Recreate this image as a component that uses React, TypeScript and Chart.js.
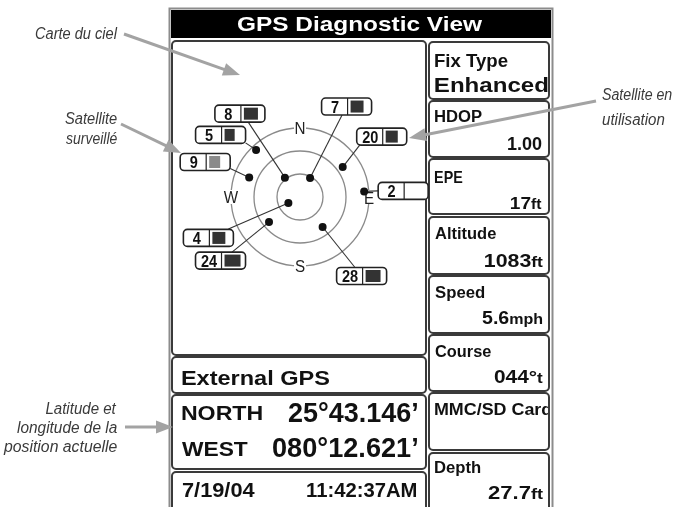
import React, { useEffect, useRef } from 'react';
import { Chart, registerables } from 'chart.js';
Chart.register(...registerables);

// ---------- data ----------
const satIds = ['8', '7', '5', '20', '9', '2', '4', '24', '28'];
const satAzimuth = [322, 28, 317, 55, 291, 85, 243, 231, 143];
const satElevation = [58, 62, 6, 22, 19, 6, 73, 38, 41];
const satSignal = [0.78, 0.72, 0.56, 0.67, 0.61, 0, 0.72, 0.89, 0.83];
const satStatus = ['used', 'used', 'used', 'used', 'tracked', 'none', 'used', 'used', 'used'];
const ringElevations = [0, 30, 60];
const compassLabels = ['N', 'E', 'S', 'W'];

const titleText = 'GPS Diagnostic View';
const infoLabels = ['Fix Type', 'HDOP', 'EPE', 'Altitude', 'Speed', 'Course', 'MMC/SD Card', 'Depth'];
const infoValues = ['Enhanced', '1.00', '17', '1083', '5.6', '044°', '', '27.7'];
const infoUnits = ['', '', 'ft', 'ft', 'mph', 't', '', 'ft'];
const gpsSource = 'External GPS';
const latLabel = 'NORTH';
const latValue = '25°43.146’';
const lonLabel = 'WEST';
const lonValue = '080°12.621’';
const dateText = '7/19/04';
const timeText = '11:42:37AM';
const noteSky = ['Carte du ciel'];
const noteTracked = ['Satellite', 'surveillé'];
const noteUsed = ['Satellite en', 'utilisation'];
const notePosition = ['Latitude et', 'longitude de la', 'position actuelle'];

// ---------- layout ----------
const labelLayout = [
  { dx: -45, dy: -64, ax: 8, ay: 8 },
  { dx: 36.5, dy: -71.5, ax: -4.5, ay: 8.5 },
  { dx: -35.5, dy: -15, ax: 25, ay: 8 },
  { dx: 39, dy: -30.5, ax: -22, ay: 8.5 },
  { dx: -44, dy: -15.5, ax: 25, ay: 6.5 },
  { dx: 39, dy: -0.5, ax: -25, ay: 0 },
  { dx: -80, dy: 35, ax: 20, ay: -9 },
  { dx: -48.5, dy: 38.5, ax: 11.5, ay: -8.5 },
  { dx: 39, dy: 49, ax: -7, ay: -9 },
];
const rightBoxes = [
  [42, 99], [101, 157], [159, 214], [217, 274], [276, 333], [335, 391], [393, 450], [453, 512],
];
const infoLayout = [
  { l: [435, 508, 60, 13], v: [435, 548, 84.5, 15] },
  { l: [435, 482, 116, 12], v: [508, 542, 143.5, 13] },
  { l: [435, 463, 177, 11.5], v: [511, 542, 203, 12] },
  { l: [435, 496, 233, 12], v: [485, 543, 260, 13] },
  { l: [435, 485, 292, 12], v: [482, 543, 317, 13] },
  { l: [435, 491, 351, 12], v: [494, 543, 377, 12.5] },
  { l: [435, 552, 409, 12], v: null },
  { l: [435, 481, 467, 12], v: [488, 543, 492, 13] },
];

const SANS = '"Liberation Sans", Arial, sans-serif';
const CAP = 0.716;

function font(size: number, bold: boolean, italic = false) {
  return `${italic ? 'italic ' : ''}${bold ? 'bold ' : ''}${size}px ${SANS}`;
}

function fitText(ctx: CanvasRenderingContext2D, text: string, x0: number, x1: number, cy: number, capH: number, bold: boolean, color: string, italic = false) {
  const size = capH / CAP;
  ctx.save();
  ctx.font = font(size, bold, italic);
  ctx.textAlign = 'left';
  ctx.textBaseline = 'alphabetic';
  const m = ctx.measureText(text);
  const ink = m.actualBoundingBoxLeft + m.actualBoundingBoxRight;
  const sx = (x1 - x0) / ink;
  ctx.translate(x0 + m.actualBoundingBoxLeft * sx, cy + capH / 2);
  ctx.scale(sx, 1);
  ctx.fillStyle = color;
  ctx.fillText(text, 0, 0);
  ctx.restore();
}

function noteText(ctx: CanvasRenderingContext2D, text: string, ax: number, cy: number, align: 'left' | 'right') {
  const capH = 12;
  const size = capH / CAP;
  const sx = 0.9;
  ctx.save();
  ctx.font = font(size, false, true);
  ctx.textAlign = 'left';
  ctx.textBaseline = 'alphabetic';
  const m = ctx.measureText(text);
  const x0 = align === 'right' ? ax - m.actualBoundingBoxRight * sx : ax + m.actualBoundingBoxLeft * sx;
  ctx.translate(x0, cy + capH / 2);
  ctx.scale(sx, 1);
  ctx.fillStyle = '#3a3a3a';
  ctx.fillText(text, 0, 0);
  ctx.restore();
}

function fitRuns(ctx: CanvasRenderingContext2D, main: string, unit: string, x0: number, x1: number, cy: number, capH: number) {
  const size = capH / CAP;
  const usize = size * 0.82;
  ctx.save();
  ctx.textAlign = 'left';
  ctx.textBaseline = 'alphabetic';
  ctx.font = font(size, true);
  const m1 = ctx.measureText(main);
  let right = m1.actualBoundingBoxRight;
  const uoff = m1.width;
  if (unit) {
    ctx.font = font(usize, true);
    const m2 = ctx.measureText(unit);
    right = uoff + m2.actualBoundingBoxRight;
  }
  const ink = m1.actualBoundingBoxLeft + right;
  const sx = (x1 - x0) / ink;
  ctx.translate(x0 + m1.actualBoundingBoxLeft * sx, cy + capH / 2);
  ctx.scale(sx, 1);
  ctx.fillStyle = '#111';
  ctx.font = font(size, true);
  ctx.fillText(main, 0, 0);
  if (unit) {
    ctx.font = font(usize, true);
    ctx.fillText(unit, uoff, 0);
  }
  ctx.restore();
}

function rr(ctx: CanvasRenderingContext2D, x0: number, y0: number, x1: number, y1: number, r: number) {
  ctx.beginPath();
  ctx.moveTo(x0 + r, y0);
  ctx.lineTo(x1 - r, y0);
  ctx.arcTo(x1, y0, x1, y0 + r, r);
  ctx.lineTo(x1, y1 - r);
  ctx.arcTo(x1, y1, x1 - r, y1, r);
  ctx.lineTo(x0 + r, y1);
  ctx.arcTo(x0, y1, x0, y1 - r, r);
  ctx.lineTo(x0, y0 + r);
  ctx.arcTo(x0, y0, x0 + r, y0, r);
  ctx.closePath();
}

function panel(ctx: CanvasRenderingContext2D, x0: number, y0: number, x1: number, y1: number) {
  rr(ctx, x0, y0, x1, y1, 4);
  ctx.fillStyle = '#fff';
  ctx.fill();
  ctx.lineWidth = 2;
  ctx.strokeStyle = '#3a3a3a';
  ctx.stroke();
}

function arrow(ctx: CanvasRenderingContext2D, x0: number, y0: number, x1: number, y1: number) {
  const ang = Math.atan2(y1 - y0, x1 - x0);
  const hl = 17, hw = 6.5;
  const bx = x1 - hl * Math.cos(ang), by = y1 - hl * Math.sin(ang);
  ctx.save();
  ctx.strokeStyle = '#a3a3a3';
  ctx.fillStyle = '#a3a3a3';
  ctx.lineWidth = 3;
  ctx.beginPath();
  ctx.moveTo(x0, y0);
  ctx.lineTo(bx + 3 * Math.cos(ang), by + 3 * Math.sin(ang));
  ctx.stroke();
  ctx.beginPath();
  ctx.moveTo(x1, y1);
  ctx.lineTo(bx + hw * Math.sin(ang), by - hw * Math.cos(ang));
  ctx.lineTo(bx - hw * Math.sin(ang), by + hw * Math.cos(ang));
  ctx.closePath();
  ctx.fill();
  ctx.restore();
}

function satXY(i: number) {
  const r = 90 - satElevation[i];
  const a = (satAzimuth[i] * Math.PI) / 180;
  return { x: r * Math.sin(a), y: r * Math.cos(a) };
}

const devicePlugin = {
  id: 'gpsDevice',
  beforeDatasetsDraw(chart: any) {
    const ctx: CanvasRenderingContext2D = chart.ctx;
    const xs = chart.scales.x, ys = chart.scales.y;
    ctx.save();
    ctx.fillStyle = '#fff';
    ctx.fillRect(0, 0, chart.width, chart.height);

    // device frame
    ctx.strokeStyle = '#8c8c8c';
    ctx.lineWidth = 2;
    ctx.strokeRect(169.5, 8.5, 383, 520);
    ctx.fillStyle = '#000';
    ctx.fillRect(171, 10, 380, 28);
    fitText(ctx, titleText, 237, 483, 24, 14, true, '#fff');

    // panels
    panel(ctx, 172, 41, 426, 355);
    panel(ctx, 172, 357, 426, 393);
    panel(ctx, 172, 395, 426, 469);
    panel(ctx, 172, 472, 426, 515);
    rightBoxes.forEach(([a, b]) => panel(ctx, 429, a, 549, b));

    // info texts
    infoLabels.forEach((lab, i) => {
      const L = infoLayout[i];
      ctx.save();
      ctx.beginPath();
      ctx.rect(430, rightBoxes[i][0], 118, rightBoxes[i][1] - rightBoxes[i][0]);
      ctx.clip();
      fitText(ctx, lab, L.l[0], L.l[1], L.l[2], L.l[3], true, '#111');
      ctx.restore();
      if (L.v && infoValues[i]) {
        if (infoUnits[i]) fitRuns(ctx, infoValues[i], infoUnits[i], L.v[0], L.v[1], L.v[2], L.v[3]);
        else fitText(ctx, infoValues[i], L.v[0], L.v[1], L.v[2], L.v[3], true, '#111');
      }
    });

    fitText(ctx, gpsSource, 182, 330, 377.5, 15, true, '#111');
    fitText(ctx, latLabel, 182, 262, 412.5, 15, true, '#111');
    fitText(ctx, latValue, 288, 417, 412, 20, true, '#111');
    fitText(ctx, lonLabel, 182, 248, 448, 15, true, '#111');
    fitText(ctx, lonValue, 273, 417, 447, 20, true, '#111');
    fitText(ctx, dateText, 182, 255, 489, 15, true, '#111');
    fitText(ctx, timeText, 307, 417, 489, 15, true, '#111');

    // sky rings
    const cx = xs.getPixelForValue(0), cy = ys.getPixelForValue(0);
    ctx.strokeStyle = '#8a8a8a';
    ctx.lineWidth = 1.3;
    ringElevations.forEach((el) => {
      const r = xs.getPixelForValue(90 - el) - cx;
      ctx.beginPath();
      ctx.arc(cx, cy, r, 0, Math.PI * 2);
      ctx.stroke();
    });
    // compass labels
    compassLabels.forEach((c, k) => {
      const a = (k * 90 * Math.PI) / 180;
      const px = xs.getPixelForValue(90 * Math.sin(a));
      const py = ys.getPixelForValue(90 * Math.cos(a));
      ctx.fillStyle = '#fff';
      ctx.fillRect(px - 6, py - 7, 12, 14);
      ctx.font = font(16, false);
      ctx.textAlign = 'center';
      ctx.textBaseline = 'alphabetic';
      ctx.fillStyle = '#222';
      ctx.save();
      ctx.translate(px, py + (c === 'E' ? 7 : 6));
      ctx.scale(0.95, 1);
      ctx.fillText(c, 0, 0);
      ctx.restore();
    });

    // satellite connectors and boxes
    satIds.forEach((id, i) => {
      const p = satXY(i);
      const dx = xs.getPixelForValue(p.x), dy = ys.getPixelForValue(p.y);
      const L = labelLayout[i];
      const bx = dx + L.dx, by = dy + L.dy;
      ctx.strokeStyle = '#333';
      ctx.lineWidth = 1.1;
      ctx.beginPath();
      ctx.moveTo(dx, dy);
      ctx.lineTo(bx + L.ax, by + L.ay);
      ctx.stroke();
    });
    satIds.forEach((id, i) => {
      const p = satXY(i);
      const dx = xs.getPixelForValue(p.x), dy = ys.getPixelForValue(p.y);
      const L = labelLayout[i];
      const x0 = dx + L.dx - 25, y0 = dy + L.dy - 8.5;
      rr(ctx, x0, y0, x0 + 50, y0 + 17, 4);
      ctx.fillStyle = '#fff';
      ctx.fill();
      ctx.lineWidth = 1.6;
      ctx.strokeStyle = '#222';
      ctx.stroke();
      ctx.beginPath();
      ctx.moveTo(x0 + 26, y0);
      ctx.lineTo(x0 + 26, y0 + 17);
      ctx.lineWidth = 1.2;
      ctx.stroke();
      if (satStatus[i] !== 'none' && satSignal[i] > 0) {
        ctx.fillStyle = satStatus[i] === 'used' ? '#333' : '#8a8a8a';
        ctx.fillRect(x0 + 29, y0 + 2.5, 18 * satSignal[i], 12);
      }
      ctx.save();
      ctx.font = font(16.5, true);
      ctx.textAlign = 'center';
      ctx.textBaseline = 'alphabetic';
      ctx.fillStyle = '#111';
      ctx.translate(x0 + 13.5, y0 + 14.5);
      ctx.scale(0.88, 1);
      ctx.fillText(id, 0, 0);
      ctx.restore();
    });
    ctx.restore();
  },
  afterDatasetsDraw(chart: any) {
    const ctx: CanvasRenderingContext2D = chart.ctx;
    ctx.save();
    const col = '#3a3a3a';
    fitText(ctx, noteSky[0], 35, 118, 33, 12, false, col, true);
    fitText(ctx, noteTracked[0], 65, 117, 118, 12, false, col, true);
    fitText(ctx, noteTracked[1], 66, 117, 138, 12, false, col, true);
    noteText(ctx, notePosition[0], 117, 408, 'right');
    fitText(ctx, notePosition[1], 17, 117, 427, 12, false, col, true);
    fitText(ctx, notePosition[2], 3, 117, 446, 12, false, col, true);
    fitText(ctx, noteUsed[0], 602, 672, 94, 12, false, col, true);
    noteText(ctx, noteUsed[1], 602, 118.5, 'left');
    arrow(ctx, 124, 34, 240, 75);
    arrow(ctx, 121, 124, 181, 153);
    arrow(ctx, 125, 427, 173, 427);
    arrow(ctx, 596, 101, 409, 138);
    ctx.restore();
  },
};

export default function App() {
  const ref = useRef<HTMLCanvasElement | null>(null);
  useEffect(() => {
    if (!ref.current) return;
    const chart = new Chart(ref.current, {
      type: 'scatter',
      data: {
        datasets: [
          {
            data: satIds.map((_, i) => satXY(i)),
            pointRadius: 4,
            pointBackgroundColor: '#111',
            pointBorderWidth: 0,
            clip: false as any,
          },
        ],
      },
      options: {
        responsive: false,
        animation: false,
        devicePixelRatio: 1,
        events: [],
        layout: { padding: { left: 231, right: 310, top: 128, bottom: 241 } },
        scales: {
          x: { type: 'linear', min: -90, max: 90, display: false },
          y: { type: 'linear', min: -90, max: 90, display: false },
        },
        plugins: { legend: { display: false }, tooltip: { enabled: false }, title: { display: false } },
      },
      plugins: [devicePlugin],
    });
    return () => chart.destroy();
  }, []);
  return (
    <div style={{ position: 'fixed', left: 0, top: 0, width: 679, height: 507, background: '#fff' }}>
      <canvas ref={ref} width={679} height={507} style={{ display: 'block', width: 679, height: 507 }} />
    </div>
  );
}
